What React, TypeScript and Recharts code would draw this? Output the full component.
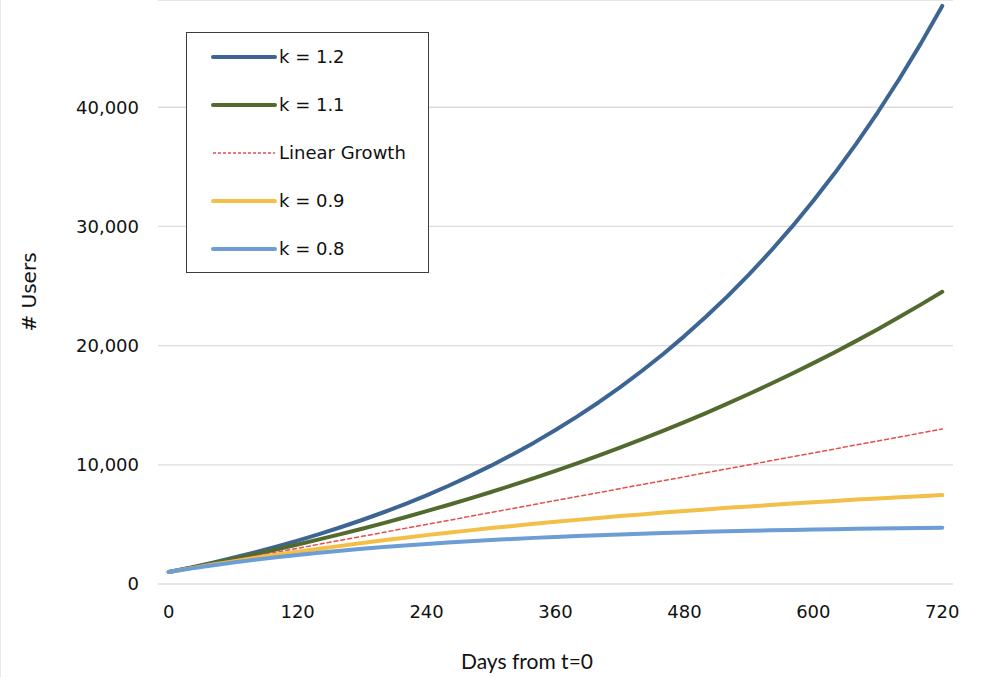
import React from 'react';
import { LineChart, Line, XAxis, YAxis, CartesianGrid, Legend, Customized } from 'recharts';

const days = [0, 20, 40, 60, 80, 100, 120, 140, 160, 180, 200, 220, 240, 260, 280, 300, 320, 340, 360, 380, 400, 420, 440, 460, 480, 500, 520, 540, 560, 580, 600, 620, 640, 660, 680, 700, 720];

const k12 = [1000, 1376, 1776, 2200, 2650, 3130, 3640, 4180, 4760, 5370, 6020, 6710, 7440, 8220, 9050, 9930, 10870, 11860, 12920, 14040, 15230, 16500, 17850, 19280, 20800, 22420, 24130, 25960, 27900, 29960, 32150, 34480, 36950, 39580, 42370, 45340, 48500];
const k11 = [1000, 1355, 1722, 2100, 2490, 2890, 3310, 3740, 4180, 4640, 5110, 5600, 6110, 6630, 7160, 7720, 8290, 8880, 9490, 10120, 10770, 11440, 12130, 12840, 13580, 14340, 15130, 15940, 16780, 17640, 18530, 19450, 20400, 21380, 22400, 23440, 24520];
const linear = [1000, 1333, 1667, 2000, 2333, 2667, 3000, 3333, 3667, 4000, 4333, 4667, 5000, 5333, 5667, 6000, 6333, 6667, 7000, 7333, 7667, 8000, 8333, 8667, 9000, 9333, 9667, 10000, 10333, 10667, 11000, 11333, 11667, 12000, 12333, 12667, 13000];
const k09 = [1000, 1310, 1610, 1900, 2180, 2450, 2710, 2960, 3200, 3440, 3670, 3880, 4100, 4300, 4500, 4690, 4870, 5050, 5220, 5380, 5540, 5700, 5840, 5990, 6130, 6260, 6390, 6510, 6630, 6750, 6860, 6970, 7080, 7180, 7270, 7370, 7460];
const k08 = [1000, 1290, 1550, 1800, 2030, 2240, 2440, 2620, 2790, 2950, 3100, 3240, 3360, 3480, 3590, 3690, 3780, 3870, 3950, 4030, 4100, 4160, 4220, 4280, 4330, 4380, 4420, 4460, 4500, 4540, 4570, 4600, 4630, 4660, 4680, 4700, 4730];

const xTicks = [0, 120, 240, 360, 480, 600, 720];
const yTicks = [0, 10000, 20000, 30000, 40000];

const seriesNames = ['k = 1.2', 'k = 1.1', 'Linear Growth', 'k = 0.9', 'k = 0.8'];
const seriesKeys = ['k12', 'k11', 'linear', 'k09', 'k08'];
const seriesColors = ['#3d6594', '#536a2f', '#e2504b', '#f2bf47', '#6c9dd4'];

const data = days.map((d, i) => ({
  day: d,
  k12: k12[i],
  k11: k11[i],
  linear: linear[i],
  k09: k09[i],
  k08: k08[i],
}));

const FONT = '"DejaVu Sans", sans-serif';

const LegendBox = () => (
  <div
    style={{
      position: 'relative',
      width: 243,
      height: 241,
      boxSizing: 'border-box',
      border: '1.5px solid #3c3c3c',
      background: '#ffffff',
      fontFamily: FONT,
      fontSize: 18,
      color: '#111',
    }}
  >
    {seriesKeys.map((k, idx) => {
      const dashed = k === 'linear';
      return (
        <div
          key={k}
          style={{
            position: 'absolute',
            left: 24,
            top: 11.5 + idx * 48,
            height: 24,
            display: 'flex',
            alignItems: 'center',
            whiteSpace: 'nowrap',
          }}
        >
          <svg width={66} height={8} style={{ display: 'block' }}>
            {dashed ? (
              <line x1={2} y1={4} x2={64} y2={4} stroke={seriesColors[idx]} strokeWidth={1.3} strokeDasharray="3 2" />
            ) : (
              <line x1={2} y1={4} x2={64} y2={4} stroke={seriesColors[idx]} strokeWidth={4} strokeLinecap="round" />
            )}
          </svg>
          <span style={{ marginLeft: 2, lineHeight: '24px' }}>{seriesNames[idx]}</span>
        </div>
      );
    })}
  </div>
);

const Titles = () => (
  <g>
    <line x1={0.5} y1={0} x2={0.5} y2={677} stroke="#e4ebf0" strokeWidth={1} />
    <text
      x={0}
      y={0}
      transform="translate(36,292) rotate(-90)"
      textAnchor="middle"
      fontFamily={FONT}
      fontSize={20}
      fill="#111"
    >
      # Users
    </text>
    <text x={527} y={669} textAnchor="middle" fontFamily='Lato, "Open Sans", sans-serif' fontSize={21} fill="#111">
      Days from t=0
    </text>
  </g>
);

export default function App() {
  return (
    <div style={{ position: 'absolute', left: 0, top: 0, width: 983, height: 677, background: '#fff' }}>
      <LineChart width={983} height={677} data={data} margin={{ top: 0, right: 30, bottom: 0, left: 98 }}>
        <CartesianGrid vertical={false} stroke="#dcdcdc" strokeWidth={1.3} />
        <XAxis
          dataKey="day"
          type="number"
          domain={[-10, 730]}
          ticks={xTicks}
          axisLine={false}
          tickLine={false}
          tickSize={0}
          tickMargin={21}
          height={93}
          tick={{ fontFamily: FONT, fontSize: 18, fill: '#111' }}
          interval={0}
        />
        <YAxis
          type="number"
          domain={[0, 49000]}
          ticks={yTicks}
          axisLine={false}
          tickLine={false}
          tickSize={0}
          tickMargin={19}
          width={60}
          allowDataOverflow
          tick={{ fontFamily: FONT, fontSize: 18, fill: '#111' }}
          tickFormatter={(v: number) => v.toLocaleString('en-US')}
          interval={0}
        />
        <Legend
          layout="vertical"
          align="center"
          verticalAlign="middle"
          content={<LegendBox />}
          wrapperStyle={{ position: 'absolute', left: 186, top: 32, width: 243, height: 241 }}
        />
        {seriesKeys.map((k, i) => (
          <Line
            key={k}
            type="linear"
            dataKey={k}
            name={seriesNames[i]}
            stroke={seriesColors[i]}
            strokeWidth={k === 'linear' ? 1.5 : 4}
            strokeDasharray={k === 'linear' ? '4 3' : undefined}
            dot={false}
            activeDot={false}
            isAnimationActive={false}
            strokeLinecap="round"
            strokeLinejoin="round"
          />
        ))}
        <Customized component={Titles} />
      </LineChart>
    </div>
  );
}
